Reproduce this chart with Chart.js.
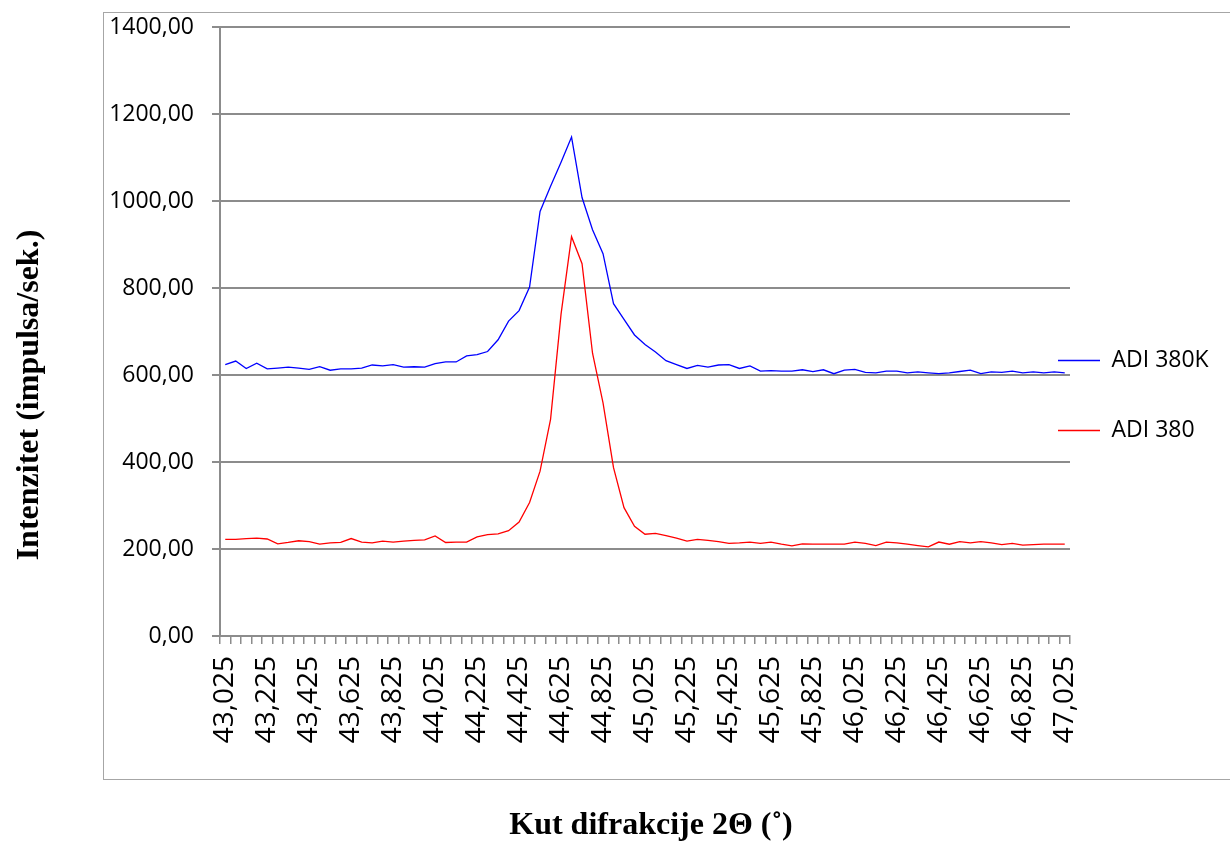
<!DOCTYPE html>
<html>
<head>
<meta charset="utf-8">
<script src="https://cdn.jsdelivr.net/npm/chart.js@4/dist/chart.umd.min.js"></script>
<style>
  html, body { margin: 0; padding: 0; background: #fff; }
  #xrd { display: block; }
</style>
</head>
<body>
<canvas id="xrd" width="1230" height="843"></canvas>
<script>
// diffraction angle 2theta, 43.025 .. 47.025 in 0.05 steps
var angleStart = 43.025;
var angleStep = 0.05;
var angleCount = 81;
var angles = [];
for (var i = 0; i < angleCount; i++) {
  angles.push((angleStart + i * angleStep).toFixed(3).replace('.', ','));
}

var adi380k = [
  624, 632, 615, 627, 614, 616, 618, 616, 613, 619,
  611, 614, 614, 616, 623, 621, 624, 618, 619, 618,
  626, 630, 630, 644, 647, 654, 681, 724, 748, 802,
  976, 1034, 1089, 1147, 1008, 934, 879, 764, 728, 692,
  670, 653, 633, 624, 615, 622, 618, 623, 624, 615,
  621, 609, 610, 609, 609, 612, 608, 612, 603, 611,
  613, 606, 605, 609, 609, 605, 607, 605, 603, 605,
  608, 611, 603, 607, 606, 609, 605, 607, 605, 607,
  605
];

var adi380 = [
  222, 222, 224, 225, 223, 212, 215, 219, 217, 211,
  214, 215, 224, 216, 214, 218, 216, 218, 220, 221,
  230, 215, 216, 216, 228, 233, 235, 242, 262, 307,
  379, 498, 740, 918, 856, 650, 536, 387, 295, 252,
  234, 236, 231, 225, 218, 222, 220, 217, 213, 214,
  216, 213, 216, 211, 207, 212, 211, 211, 211, 211,
  216, 213, 208, 216, 214, 211, 208, 205, 216, 211,
  217, 214, 217, 214, 210, 213, 209, 210, 211, 211,
  211
];

var seriesNames = ['ADI 380K', 'ADI 380'];
var yTitle = 'Intenzitet (impulsa/sek.)';
var xTitle = 'Kut difrakcije 2Θ (˚)';
var yTicks = { min: 0, max: 1400, step: 200 };

var gridGrey = '#8c8c8c';
var titleFont = 'bold 32px "Liberation Serif", "Times New Roman", serif';

const framePlugin = {
  id: 'frame',
  beforeDraw(chart) {
    const ctx = chart.ctx;
    ctx.save();
    ctx.fillStyle = '#fff';
    ctx.fillRect(0, 0, chart.width, chart.height);
    ctx.strokeStyle = '#a6a6a6';
    ctx.lineWidth = 1;
    ctx.strokeRect(103.5, 12.5, chart.width, 767);
    ctx.restore();
  },
  afterLayout(chart) {
    // excel puts the legend a little into the plot area
    const lg = chart.legend;
    lg.left -= 59;
    lg.right = chart.width;
    lg.top = 12;
    lg.bottom = 779;
  },
  afterDraw(chart) {
    // axis titles sit outside the chart frame, centred on the frame
    const ctx = chart.ctx;
    ctx.save();
    ctx.fillStyle = '#000';
    ctx.font = titleFont;
    ctx.textAlign = 'center';
    ctx.textBaseline = 'middle';
    ctx.fillText(xTitle, 651, 826);
    ctx.translate(30, 395);
    ctx.rotate(-Math.PI / 2);
    ctx.fillText(yTitle, 0, 0);
    ctx.restore();
  }
};

const data = {
  labels: angles,
  datasets: [
    {
      label: seriesNames[0],
      data: adi380k,
      borderColor: '#0000ff',
      backgroundColor: '#0000ff',
      borderWidth: 1.3,
      pointRadius: 0,
      tension: 0
    },
    {
      label: seriesNames[1],
      data: adi380,
      borderColor: '#ff0000',
      backgroundColor: '#ff0000',
      borderWidth: 1.3,
      pointRadius: 0,
      tension: 0
    }
  ]
};

const config = {
  type: 'line',
  data: data,
  plugins: [framePlugin],
  options: {
    responsive: false,
    maintainAspectRatio: false,
    animation: false,
    layout: { padding: { top: 27, left: 0, right: 0, bottom: 0 } },
    plugins: {
      tooltip: { enabled: false },
      legend: {
        position: 'right',
        maxWidth: 160,
        labels: {
          usePointStyle: true,
          pointStyle: 'line',
          pointStyleWidth: 42,
          textAlign: 'left',
          color: '#000',
          padding: 47,
          font: { family: 'Open Sans', size: 23 }
        }
      }
    },
    scales: {
      x: {
        type: 'category',
        offset: true,
        afterFit(scale) { scale.height = 207; },
        border: { display: true, color: gridGrey, width: 2 },
        grid: {
          offset: true,
          drawOnChartArea: false,
          drawTicks: true,
          tickLength: 8,
          color: gridGrey,
          lineWidth: 1.5
        },
        ticks: {
          autoSkip: false,
          minRotation: 90,
          maxRotation: 90,
          padding: 12,
          color: '#000',
          font: { family: 'Open Sans', size: 28 },
          callback: function (v, i) { return i % 4 === 0 ? angles[i] : ''; }
        }
      },
      y: {
        min: yTicks.min,
        max: yTicks.max,
        afterFit(scale) { scale.width = 220; },
        border: { display: true, color: gridGrey, width: 2 },
        grid: {
          color: gridGrey,
          lineWidth: 2,
          tickLength: 8
        },
        ticks: {
          stepSize: yTicks.step,
          padding: 18,
          color: '#000',
          font: { family: 'Open Sans', size: 23, lineHeight: 0.5 },
          callback: function (v) { return v.toFixed(2).replace('.', ','); }
        }
      }
    }
  }
};

const chart = new Chart(document.getElementById('xrd'), config);
</script>
</body>
</html>
